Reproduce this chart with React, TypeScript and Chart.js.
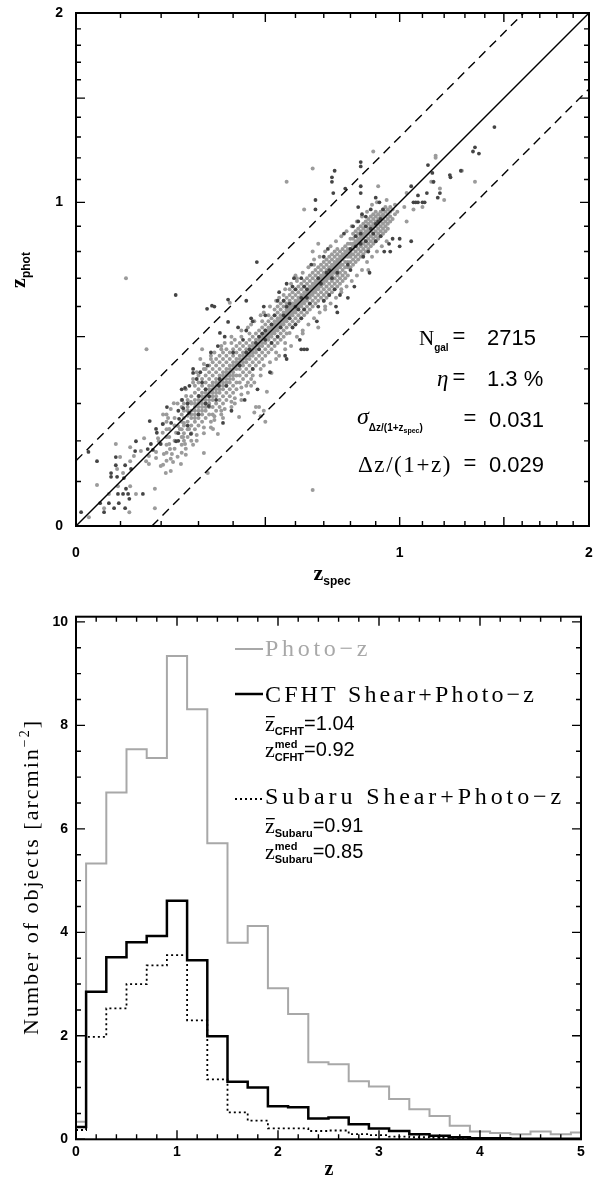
import React, { useEffect, useRef } from 'react';
import { Chart, registerables, LinearScale } from 'chart.js';

Chart.register(...registerables);

// log10(1+z) axis scale
class Log1pScale extends LinearScale {
  static id = 'log1p';
  static defaults = {};
  _u0 = 0;
  _u1 = 1;
  configure() {
    super.configure();
    this._u0 = Math.log10(1 + (this as any).min);
    this._u1 = Math.log10(1 + (this as any).max);
  }
  getPixelForValue(value: number) {
    if (value === null || value === undefined || isNaN(value)) return NaN;
    const u = Math.log10(1 + value);
    return (this as any).getPixelForDecimal((u - this._u0) / (this._u1 - this._u0));
  }
  getValueForPixel(pixel: number) {
    const d = (this as any).getDecimalForPixel(pixel);
    return Math.pow(10, this._u0 + d * (this._u1 - this._u0)) - 1;
  }
}
Chart.register(Log1pScale as any);

// ---------------- top panel data ----------------
const zAxisTicks = [0, 0.1, 0.2, 0.3, 0.4, 0.5, 0.6, 0.7, 0.8, 0.9, 1, 1.1, 1.2, 1.3, 1.4, 1.5, 1.6, 1.7, 1.8, 1.9, 2];
const zAxisLabels = [0, 1, 2];
const outlierLimit = 0.15;
const statNgal = '2715';
const statEta = '1.3 %';
const statSigma = '0.031';
const statBias = '0.029';

// [z_spec, [z_phot ...]]
const lightCols: [number, number[]][] = [
  [0.028, [0.019]], [0.046, [0.092]], [0.062, [0.039]], [0.073, [0.071]], [0.089, [0.192]],
  [0.092, [0.13]], [0.094, [0.089]], [0.099, [0.159]], [0.106, [0.12]], [0.113, [0.7]],
  [0.121, [0.03]], [0.123, [0.089, 0.149, 0.184]],
  [0.132, [0.162]], [0.137, [0.071]], [0.149, [0.174]], [0.157, [0.207]], [0.162, [0.149]],
  [0.163, [0.46]], [0.169, [0.142, 0.162]], [0.184, [0.039, 0.083]], [0.187, [0.157, 0.172]],
  [0.192, [0.207]], [0.194, [0.199]], [0.199, [0.137]], [0.204, [0.221]], [0.205, [0.14, 0.245, 0.27]],
  [0.207, [0.167]], [0.212, [0.12]], [0.214, [0.15, 0.17, 0.19, 0.21, 0.23, 0.25, 0.27]], [0.218, [0.26]],
  [0.221, [0.192, 0.21, 0.231]], [0.223, [0.179]], [0.225, [0.125, 0.155, 0.285]], [0.228, [0.167]],
  [0.231, [0.147]], [0.233, [0.301]], [0.235, [0.18, 0.2, 0.24, 0.26]], [0.239, [0.221]], [0.243, [0.16, 0.3]],
  [0.244, [0.239]], [0.249, [0.231]], [0.252, [0.142]], [0.254, [0.17, 0.19, 0.21, 0.23, 0.25, 0.27, 0.29, 0.31]],
  [0.258, [0.21]], [0.26, [0.2, 0.22, 0.24, 0.247, 0.26, 0.28, 0.3]], [0.263, [0.192]],
  [0.265, [0.165, 0.18, 0.34]], [0.266, [0.321]],
  [0.27, [0.21, 0.23, 0.25, 0.266, 0.28, 0.29, 0.31]], [0.274, [0.231]], [0.279, [0.304]],
  [0.28, [0.2, 0.22, 0.24, 0.26, 0.27, 0.28, 0.3, 0.32]], [0.285, [0.19, 0.36, 0.37]],
  [0.29, [0.23, 0.25, 0.26, 0.27, 0.28, 0.29, 0.3, 0.31, 0.33, 0.35]], [0.295, [0.2, 0.215, 0.39]],
  [0.3, [0.24, 0.26, 0.27, 0.28, 0.29, 0.3, 0.31, 0.32, 0.34, 0.36, 0.38]],
  [0.305, [0.43]], [0.31, [0.25, 0.27, 0.28, 0.29, 0.3, 0.31, 0.32, 0.33, 0.35, 0.37, 0.46]],
  [0.315, [0.169, 0.22, 0.235, 0.4, 0.415]],
  [0.32, [0.26, 0.28, 0.29, 0.3, 0.31, 0.32, 0.33, 0.34, 0.36, 0.38, 0.4]], [0.326, [0.12]],
  [0.33, [0.27, 0.29, 0.3, 0.31, 0.32, 0.33, 0.34, 0.35, 0.37, 0.39, 0.41]], [0.335, [0.235, 0.25, 0.43, 0.44]],
  [0.34, [0.27, 0.29, 0.31, 0.32, 0.33, 0.34, 0.35, 0.36, 0.38, 0.4, 0.42]], [0.341, [0.231]],
  [0.345, [0.255, 0.265, 0.45]],
  [0.35, [0.28, 0.3, 0.32, 0.33, 0.34, 0.35, 0.36, 0.37, 0.39, 0.41, 0.43]], [0.355, [0.218]],
  [0.36, [0.29, 0.31, 0.33, 0.34, 0.35, 0.36, 0.37, 0.38, 0.4, 0.42, 0.44]], [0.365, [0.27, 0.28, 0.46, 0.47]],
  [0.37, [0.26, 0.3, 0.32, 0.34, 0.35, 0.36, 0.37, 0.38, 0.39, 0.41, 0.43, 0.45]], [0.375, [0.285, 0.48]],
  [0.38, [0.31, 0.33, 0.35, 0.36, 0.37, 0.38, 0.39, 0.4, 0.42, 0.44, 0.46]],
  [0.39, [0.32, 0.34, 0.36, 0.37, 0.38, 0.39, 0.4, 0.41, 0.43, 0.45, 0.613]], [0.395, [0.29, 0.305, 0.48, 0.5]],
  [0.4, [0.33, 0.35, 0.37, 0.38, 0.39, 0.4, 0.41, 0.42, 0.44, 0.46]], [0.405, [0.3, 0.315, 0.49]],
  [0.41, [0.34, 0.36, 0.38, 0.4, 0.41, 0.42, 0.43, 0.45, 0.47]],
  [0.418, [0.263]], [0.42, [0.36, 0.38, 0.4, 0.41, 0.42, 0.43, 0.44, 0.46, 0.48]],
  [0.425, [0.31, 0.325, 0.345, 0.5, 0.52]],
  [0.43, [0.37, 0.39, 0.41, 0.42, 0.43, 0.44, 0.45, 0.47]],
  [0.44, [0.35, 0.38, 0.4, 0.42, 0.43, 0.44, 0.45, 0.46, 0.48]], [0.445, [0.33, 0.36, 0.53]],
  [0.45, [0.39, 0.41, 0.43, 0.44, 0.45, 0.46, 0.47, 0.49, 0.51]], [0.455, [0.35, 0.37, 0.54]],
  [0.46, [0.38, 0.4, 0.42, 0.44, 0.45, 0.46, 0.47, 0.48, 0.5]], [0.465, [0.275, 0.36, 0.55]],
  [0.47, [0.29, 0.41, 0.43, 0.45, 0.46, 0.47, 0.48, 0.49, 0.51]],
  [0.48, [0.29, 0.42, 0.44, 0.46, 0.47, 0.48, 0.49, 0.5, 0.52]], [0.485, [0.265, 0.38, 0.4, 0.57]],
  [0.49, [0.43, 0.45, 0.47, 0.48, 0.49, 0.5, 0.51, 0.53, 0.55]], [0.495, [0.28, 0.41, 0.58]],
  [0.5, [0.25, 0.44, 0.46, 0.48, 0.49, 0.5, 0.51, 0.52, 0.54]], [0.505, [0.333]],
  [0.51, [0.45, 0.47, 0.49, 0.5, 0.51, 0.52, 0.53, 0.55, 0.57]], [0.515, [0.42, 0.6]],
  [0.52, [0.388, 0.46, 0.48, 0.5, 0.51, 0.52, 0.53, 0.54, 0.56]],
  [0.53, [0.47, 0.49, 0.51, 0.52, 0.53, 0.54, 0.55, 0.57, 0.59]], [0.535, [0.43, 0.45, 0.62]],
  [0.54, [0.48, 0.5, 0.52, 0.53, 0.54, 0.55, 0.56, 0.58, 0.6]], [0.545, [0.44, 0.63]],
  [0.55, [0.49, 0.51, 0.53, 0.54, 0.55, 0.56, 0.57, 0.59, 0.61]],
  [0.56, [0.5, 0.52, 0.54, 0.55, 0.56, 0.57, 0.58, 0.6, 0.62, 0.64]], [0.565, [0.46, 0.48, 0.66]],
  [0.57, [0.51, 0.53, 0.55, 0.56, 0.57, 0.58, 0.59, 0.61, 0.63, 1.09]],
  [0.58, [0.512, 0.54, 0.56, 0.57, 0.58, 0.59, 0.6, 0.62, 0.64, 0.66]], [0.585, [0.47, 0.68]],
  [0.59, [0.53, 0.55, 0.57, 0.58, 0.59, 0.6, 0.61, 0.63, 0.65]],
  [0.6, [0.54, 0.56, 0.58, 0.59, 0.6, 0.61, 0.62, 0.64, 0.66, 0.71]], [0.605, [0.5, 0.69, 0.7]],
  [0.61, [0.55, 0.57, 0.59, 0.6, 0.61, 0.62, 0.63, 0.65, 0.67]],
  [0.62, [0.56, 0.58, 0.6, 0.61, 0.62, 0.63, 0.64, 0.66, 0.68]], [0.625, [0.51, 0.52, 0.72]],
  [0.63, [0.57, 0.59, 0.61, 0.62, 0.63, 0.64, 0.65, 0.67, 0.69, 0.97]],
  [0.64, [0.58, 0.6, 0.62, 0.63, 0.64, 0.65, 0.66, 0.68, 0.7]], [0.645, [0.54, 0.74]],
  [0.65, [0.59, 0.61, 0.63, 0.64, 0.65, 0.66, 0.67, 0.69, 0.71]],
  [0.66, [0.08, 0.6, 0.62, 0.64, 0.65, 0.66, 0.67, 0.68, 0.7, 0.72, 0.8, 1.15]], [0.665, [0.56, 0.75, 0.77]],
  [0.67, [0.61, 0.63, 0.65, 0.66, 0.67, 0.68, 0.69, 0.71, 0.73]],
  [0.68, [0.53, 0.62, 0.64, 0.66, 0.67, 0.68, 0.69, 0.7, 0.72, 0.74, 0.83]], [0.685, [0.58, 0.78]],
  [0.69, [0.63, 0.65, 0.67, 0.68, 0.69, 0.7, 0.71, 0.73, 0.75]],
  [0.7, [0.62, 0.64, 0.66, 0.68, 0.69, 0.7, 0.71, 0.72, 0.74, 0.76]], [0.705, [0.59, 0.6, 0.8]],
  [0.71, [0.63, 0.65, 0.67, 0.69, 0.7, 0.71, 0.72, 0.73, 0.75, 0.77]],
  [0.72, [0.64, 0.66, 0.68, 0.7, 0.71, 0.72, 0.73, 0.74, 0.76, 0.78]], [0.725, [0.61, 0.82]],
  [0.73, [0.65, 0.67, 0.69, 0.71, 0.72, 0.73, 0.74, 0.75, 0.77, 0.79]],
  [0.74, [0.66, 0.68, 0.7, 0.72, 0.73, 0.74, 0.75, 0.76, 0.78, 0.8]], [0.745, [0.63, 0.84]],
  [0.75, [0.67, 0.69, 0.71, 0.73, 0.74, 0.75, 0.76, 0.77, 0.79, 0.81]],
  [0.76, [0.68, 0.7, 0.72, 0.74, 0.75, 0.76, 0.77, 0.78, 0.8]], [0.765, [0.65, 0.66, 0.86]],
  [0.77, [0.69, 0.71, 0.73, 0.75, 0.77, 0.78, 0.79, 0.81]],
  [0.78, [0.7, 0.72, 0.74, 0.76, 0.78, 0.79, 0.8, 0.82]], [0.785, [0.67, 0.88]],
  [0.79, [0.71, 0.74, 0.76, 0.78, 0.8, 0.81, 0.83]],
  [0.8, [0.74, 0.76, 0.78, 0.79, 0.8, 0.81, 0.83, 0.85]], [0.805, [0.69, 0.9]],
  [0.81, [0.75, 0.77, 0.79, 0.81, 0.82, 0.83, 0.85, 0.87]],
  [0.82, [0.76, 0.78, 0.8, 0.82, 0.83, 0.84, 0.86, 0.88]], [0.825, [0.71, 0.92]],
  [0.83, [0.77, 0.79, 0.81, 0.83, 0.84, 0.85, 0.87, 0.89]],
  [0.84, [0.78, 0.8, 0.82, 0.84, 0.85, 0.86, 0.88, 0.9]], [0.845, [0.73, 0.94]],
  [0.85, [0.79, 0.81, 0.83, 0.85, 0.86, 0.87, 0.89, 0.91]],
  [0.86, [0.8, 0.82, 0.84, 0.86, 0.87, 0.88, 0.9, 0.92]], [0.865, [0.76, 0.96]],
  [0.87, [0.73, 0.81, 0.83, 0.85, 0.87, 0.88, 0.89, 0.91, 0.93]],
  [0.88, [0.82, 0.84, 0.86, 0.88, 0.89, 0.9, 0.92, 0.94]], [0.885, [0.78, 0.99]],
  [0.89, [0.83, 0.85, 0.87, 0.89, 0.9, 0.91, 0.93, 0.95, 1.23]],
  [0.9, [0.84, 0.86, 0.88, 0.9, 0.91, 0.92, 0.94, 0.96]], [0.905, [0.8, 1.0]],
  [0.91, [0.85, 0.87, 0.89, 0.91, 0.92, 0.93, 0.95, 1.07]],
  [0.92, [0.86, 0.88, 0.9, 0.92, 0.93, 0.94, 0.96]], [0.925, [0.82]],
  [0.93, [0.87, 0.89, 0.91, 0.93, 0.94, 0.95, 0.97]],
  [0.94, [0.88, 0.9, 0.92, 0.94, 0.96, 0.98]], [0.945, [0.84, 1.01]],
  [0.95, [0.89, 0.91, 0.93, 0.95, 0.97]], [0.96, [0.92, 0.94, 0.96, 0.98]],
  [0.97, [0.93, 0.97]], [0.98, [0.95, 0.99]], [0.99, [0.96]],
  [1.02, [0.98]], [1.03, [0.92, 1.04]], [1.06, [0.97]], [1.1, [0.98]], [1.14, [1.09]],
  [1.15, [1.09]], [1.16, [1.2, 1.21]], [1.18, [1.06]], [1.2, [1.01]], [1.285, [1.14]], [1.35, [1.09]],
];

const darkCols: [number, number[]][] = [
  [0.011, [0.03]], [0.027, [0.172]], [0.046, [0.149]], [0.053, [0.05]], [0.062, [0.03]],
  [0.073, [0.05]], [0.078, [0.111, 0.12]], [0.085, [0.039]], [0.089, [0.139, 0.159]],
  [0.092, [0.111]], [0.094, [0.071]], [0.096, [0.05]], [0.106, [0.071]], [0.108, [0.108]],
  [0.111, [0.039, 0.139]], [0.113, [0.083]], [0.118, [0.071]], [0.121, [0.06]], [0.125, [0.13]],
  [0.135, [0.174]], [0.137, [0.199]], [0.154, [0.071]], [0.166, [0.179]], [0.171, [0.252]],
  [0.174, [0.192]], [0.179, [0.177]], [0.187, [0.231]], [0.189, [0.221]], [0.199, [0.192]],
  [0.204, [0.244]], [0.215, [0.29]], [0.226, [0.247]], [0.238, [0.64]], [0.239, [0.199]],
  [0.245, [0.2, 0.22, 0.28]], [0.247, [0.258]], [0.254, [0.34]], [0.255, [0.31]], [0.258, [0.287]],
  [0.263, [0.344]], [0.27, [0.24, 0.3]], [0.274, [0.274]], [0.275, [0.35]], [0.279, [0.218]],
  [0.285, [0.388, 0.4]], [0.295, [0.37]], [0.3, [0.27]], [0.301, [0.321]], [0.305, [0.39]],
  [0.31, [0.36]], [0.32, [0.3, 0.34]], [0.324, [0.592]], [0.325, [0.41]], [0.329, [0.293]], [0.33, [0.32]],
  [0.335, [0.45]], [0.338, [0.603]], [0.345, [0.6]], [0.35, [0.31]], [0.355, [0.47]], [0.358, [0.35]],
  [0.36, [0.37]], [0.361, [0.512]], [0.37, [0.247]], [0.375, [0.5]], [0.38, [0.35]],
  [0.385, [0.548, 0.624]], [0.395, [0.28]], [0.4, [0.45]], [0.415, [0.53]],
  [0.42, [0.41]], [0.43, [0.49]], [0.435, [0.31]], [0.44, [0.45, 0.52, 0.62]], [0.45, [0.46]],
  [0.455, [0.56]], [0.46, [0.4, 0.55]], [0.47, [0.48]], [0.473, [0.76]], [0.475, [0.34]],
  [0.48, [0.46, 0.5]], [0.49, [0.51]], [0.495, [0.6]], [0.5, [0.49, 0.52, 0.57]], [0.515, [0.39]],
  [0.52, [0.48, 0.54]], [0.53, [0.57]], [0.54, [0.5, 0.62]], [0.545, [0.65]], [0.55, [0.53]],
  [0.56, [0.57, 0.62]], [0.565, [0.44]], [0.57, [0.43, 0.6, 0.68]], [0.58, [0.56, 0.61]],
  [0.59, [0.53, 0.67]], [0.595, [0.7]], [0.6, [0.54, 0.6, 0.66]], [0.61, [0.59]], [0.615, [0.49]],
  [0.62, [0.46, 0.56, 0.63, 0.7]], [0.63, [0.46, 0.59, 0.67]], [0.64, [0.46, 0.63, 0.66]],
  [0.65, [0.61]], [0.655, [0.75]], [0.67, [0.97, 1.01]], [0.675, [0.55]], [0.68, [0.6, 0.7]],
  [0.69, [0.68]], [0.7, [0.62, 0.78]], [0.71, [0.72]], [0.715, [0.81]], [0.72, [0.64, 0.73]],
  [0.73, [0.7, 1.09, 1.11]], [0.735, [1.04]], [0.74, [0.66, 1.14]], [0.745, [0.6]],
  [0.75, [0.58, 0.72]], [0.76, [0.64]], [0.775, [0.87]], [0.78, [1.06]], [0.79, [0.63, 0.75]],
  [0.8, [0.73, 0.81]], [0.81, [0.9]], [0.815, [0.67]], [0.82, [0.82, 0.86]], [0.83, [0.92, 0.98]],
  [0.84, [0.83, 0.87, 1.04, 1.07, 1.16, 1.18]], [0.845, [0.95]], [0.85, [0.78]],
  [0.86, [0.84, 0.9, 0.94]], [0.87, [0.8]], [0.875, [0.72]], [0.88, [0.89, 0.97]], [0.89, [0.87]],
  [0.9, [0.84, 0.91, 1.02]], [0.91, [0.92]], [0.915, [1.0]], [0.92, [0.86, 0.93]], [0.93, [0.97]],
  [0.935, [0.8]], [0.955, [0.83]], [0.96, [0.8]], [0.97, [0.85]], [1.0, [0.82, 0.85]],
  [1.05, [0.84, 1.07]], [1.06, [1.0]], [1.07, [1.0]], [1.08, [1.0, 1.03]], [1.1, [1.0]],
  [1.11, [1.0]], [1.12, [1.04]], [1.125, [1.166]], [1.145, [1.13]], [1.15, [1.09]], [1.17, [1.02]],
  [1.18, [1.04]], [1.227, [1.12]], [1.23, [1.11]], [1.28, [1.14]], [1.34, [1.23]], [1.35, [1.25]],
  [1.37, [1.22]], [1.45, [1.35]],
];

// ---------------- bottom panel data ----------------
const binEdges = [0, 0.1, 0.3, 0.5, 0.7, 0.9, 1.1, 1.3, 1.5, 1.7, 1.9, 2.1, 2.3, 2.5, 2.7, 2.9, 3.1, 3.3, 3.5, 3.7, 3.9, 4.1, 4.3, 4.5, 4.7, 4.9, 5.0];
const photoZCounts = [0.34, 5.33, 6.7, 7.54, 7.37, 9.34, 8.31, 5.72, 3.8, 4.12, 2.92, 2.42, 1.49, 1.45, 1.12, 1.02, 0.78, 0.58, 0.45, 0.26, 0.15, 0.12, 0.1, 0.15, 0.1, 0.13];
const cfhtCounts = [0.24, 2.85, 3.52, 3.81, 3.93, 4.61, 3.46, 1.99, 1.11, 1.0, 0.64, 0.62, 0.4, 0.42, 0.29, 0.21, 0.16, 0.1, 0.07, 0.04, 0.02, 0.02, 0.01, 0.01, 0.01, 0.01];
const subaruCounts = [0.18, 1.98, 2.53, 3.0, 3.36, 3.56, 2.3, 1.16, 0.52, 0.36, 0.21, 0.21, 0.16, 0.17, 0.1, 0.08, 0.05, 0.04, 0.03, 0.02, 0.01, 0.01, 0.01, 0, 0, 0];
const histXTicks = [0, 0.2, 0.4, 0.6, 0.8, 1, 1.2, 1.4, 1.6, 1.8, 2, 2.2, 2.4, 2.6, 2.8, 3, 3.2, 3.4, 3.6, 3.8, 4, 4.2, 4.4, 4.6, 4.8, 5];
const histXLabels = [0, 1, 2, 3, 4, 5];
const histYTicks = [0, 0.5, 1, 1.5, 2, 2.5, 3, 3.5, 4, 4.5, 5, 5.5, 6, 6.5, 7, 7.5, 8, 8.5, 9, 9.5, 10];
const histYLabels = [0, 2, 4, 6, 8, 10];
const cfhtMean = '1.04';
const cfhtMedian = '0.92';
const subaruMean = '0.91';
const subaruMedian = '0.85';

// ---------------- helpers ----------------
const SERIF = '"Liberation Serif", "DejaVu Serif", serif';
const SANS = '"Liberation Sans", Arial, sans-serif';

type Seg = { t?: string; f?: string; dy?: number; c?: string; ls?: number; bar?: boolean; sup?: Seg; sub?: Seg };

function segWidth(ctx: CanvasRenderingContext2D, s: Seg): number {
  if (s.sup || s.sub) {
    return Math.max(s.sup ? segWidth(ctx, s.sup) : 0, s.sub ? segWidth(ctx, s.sub) : 0);
  }
  ctx.font = s.f as string;
  const t = s.t as string;
  if (!s.ls) return ctx.measureText(t).width;
  let w = 0;
  for (const ch of Array.from(t)) w += ctx.measureText(ch).width + s.ls;
  return w;
}

function drawSeg(ctx: CanvasRenderingContext2D, s: Seg, x: number, y: number, color: string) {
  ctx.font = s.f as string;
  ctx.fillStyle = s.c || color;
  const t = s.t as string;
  const yy = y + (s.dy || 0);
  if (!s.ls) {
    ctx.fillText(t, x, yy);
  } else {
    let cx = x;
    for (const ch of Array.from(t)) {
      ctx.fillText(ch, cx, yy);
      cx += ctx.measureText(ch).width + s.ls;
    }
  }
  if (s.bar) {
    const w = ctx.measureText(t).width;
    ctx.fillRect(x + 1, yy - 15, w - 1, 1.3);
  }
}

// spread letters so that the whole run spans `target` pixels
function fitSegs(ctx: CanvasRenderingContext2D, segs: Seg[], target: number): Seg[] {
  const base = segs.map((s) => ({ ...s, ls: 0 }));
  const w0 = base.reduce((a, s) => a + segWidth(ctx, s), 0);
  const n = base.reduce((a, s) => a + Array.from(s.t || '').length, 0);
  const ls = (target - w0) / n;
  return base.map((s) => ({ ...s, ls }));
}

function drawRich(ctx: CanvasRenderingContext2D, x: number, y: number, segsIn: Seg[], align = 'left', color = '#000', target = 0) {
  ctx.save();
  ctx.textBaseline = 'alphabetic';
  ctx.textAlign = 'left';
  const segs = target > 0 ? fitSegs(ctx, segsIn, target) : segsIn;
  const total = segs.reduce((a, s) => a + segWidth(ctx, s), 0);
  let cx = align === 'center' ? x - total / 2 : align === 'right' ? x - total : x;
  for (const s of segs) {
    const w = segWidth(ctx, s);
    if (s.sup || s.sub) {
      if (s.sup) drawSeg(ctx, s.sup, cx, y, color);
      if (s.sub) drawSeg(ctx, s.sub, cx, y, color);
    } else {
      drawSeg(ctx, s, cx, y, color);
    }
    cx += w;
  }
  ctx.restore();
}

function drawFrameTicks(chart: any, majorX: number, majorY: number, majorLen: number, minorLen: number) {
  const { ctx, chartArea: a } = chart;
  const xs = chart.scales.x;
  const ys = chart.scales.y;
  const isMajor = (v: number, step: number) => Math.abs(v / step - Math.round(v / step)) < 1e-6;
  ctx.save();
  ctx.strokeStyle = '#000';
  ctx.lineWidth = 1.4;
  ctx.beginPath();
  for (const t of xs.ticks) {
    const p = xs.getPixelForValue(t.value);
    const len = isMajor(t.value, majorX) ? majorLen : minorLen;
    ctx.moveTo(p, a.bottom);
    ctx.lineTo(p, a.bottom - len);
    ctx.moveTo(p, a.top);
    ctx.lineTo(p, a.top + len);
  }
  for (const t of ys.ticks) {
    const p = ys.getPixelForValue(t.value);
    const len = isMajor(t.value, majorY) ? majorLen : minorLen;
    ctx.moveTo(a.left, p);
    ctx.lineTo(a.left + len, p);
    ctx.moveTo(a.right, p);
    ctx.lineTo(a.right - len, p);
  }
  ctx.stroke();
  ctx.lineWidth = 2;
  ctx.strokeRect(a.left, a.top, a.right - a.left, a.bottom - a.top);
  ctx.restore();
}

const colsToPoints = (cols: [number, number[]][]) =>
  cols.flatMap(([zs, zps]) => zps.map((zp) => ({ x: zs, y: zp })));

const histPoints = (counts: number[]) => {
  const pts = counts.map((v, i) => ({ x: binEdges[i], y: v }));
  pts.push({ x: binEdges[binEdges.length - 1], y: counts[counts.length - 1] });
  return pts;
};

const tickFont = { family: SANS, size: 14, weight: 'bold' as const };

const fitX = (h: number) => (s: any) => {
  s.height = h;
  s.paddingLeft = 0; s.paddingRight = 0; s.paddingTop = 0; s.paddingBottom = 0;
};
const fitY = (w: number) => (s: any) => {
  s.width = w;
  s.paddingLeft = 0; s.paddingRight = 0; s.paddingTop = 0; s.paddingBottom = 0;
};
const labelCb = (labels: number[]) => (v: number) => (labels.includes(v) ? String(v) : '');

// ---------------- top chart ----------------
function makeTopChart(canvas: HTMLCanvasElement) {
  const lim = outlierLimit;
  const annot = {
    id: 'topAnnot',
    afterDraw(chart: any) {
      const ctx = chart.ctx as CanvasRenderingContext2D;
      drawFrameTicks(chart, 0.5, 0.5, 9, 5);
      const num = `22px ${SANS}`;
      drawRich(ctx, 419, 345, [{ t: 'N', f: `21px ${SERIF}` }, { t: 'gal', f: `bold 10px ${SANS}`, dy: 6 }]);
      drawRich(ctx, 459, 343, [{ t: '=', f: num }], 'center');
      drawRich(ctx, 487, 345, [{ t: statNgal, f: num }]);
      drawRich(ctx, 437, 386, [{ t: 'η', f: `italic 23px ${SERIF}` }]);
      drawRich(ctx, 459, 384, [{ t: '=', f: num }], 'center');
      drawRich(ctx, 487, 386, [{ t: statEta, f: num }]);
      drawRich(ctx, 357, 424, [
        { t: 'σ', f: `italic 24px ${SERIF}` },
        { t: 'Δz/(1+z', f: `bold 10px ${SANS}`, dy: 7 },
        { t: 'spec', f: `bold 7px ${SANS}`, dy: 9 },
        { t: ')', f: `bold 10px ${SANS}`, dy: 7 },
      ]);
      drawRich(ctx, 470, 425, [{ t: '=', f: num }], 'center');
      drawRich(ctx, 489, 427, [{ t: statSigma, f: num }]);
      drawRich(ctx, 358, 472, [{ t: 'Δz/(1+z)', f: `23px ${SERIF}` }], 'left', '#000', 94);
      drawRich(ctx, 470, 470, [{ t: '=', f: num }], 'center');
      drawRich(ctx, 489, 472, [{ t: statBias, f: num }]);
      drawRich(ctx, 332, 580, [{ t: 'z', f: `bold 22px ${SERIF}` }, { t: 'spec', f: `bold 12px ${SANS}`, dy: 5 }], 'center');
      ctx.save();
      ctx.translate(25, 270);
      ctx.rotate(-Math.PI / 2);
      drawRich(ctx, 0, 0, [{ t: 'z', f: `bold 22px ${SERIF}` }, { t: 'phot', f: `bold 12px ${SANS}`, dy: 5 }], 'center');
      ctx.restore();
    },
  };
  return new Chart(canvas, {
    type: 'scatter',
    data: {
      datasets: [
        { type: 'line', data: [{ x: 0, y: 0 }, { x: 2, y: 2 }], borderColor: '#000', borderWidth: 1.4, pointRadius: 0, showLine: true } as any,
        { type: 'line', data: [{ x: 0, y: lim }, { x: 3 / (1 + lim) - 1, y: 2 }], borderColor: '#000', borderWidth: 1.4, borderDash: [9, 6], pointRadius: 0, showLine: true } as any,
        { type: 'line', data: [{ x: 1 / (1 - lim) - 1, y: 0 }, { x: 2, y: 3 * (1 - lim) - 1 }], borderColor: '#000', borderWidth: 1.4, borderDash: [9, 6], pointRadius: 0, showLine: true } as any,
        { data: colsToPoints(darkCols), pointRadius: 1.9, pointBorderWidth: 0, pointBackgroundColor: '#444444', backgroundColor: '#444444', showLine: false },
        { data: colsToPoints(lightCols), pointRadius: 2, pointBorderWidth: 0, pointBackgroundColor: '#9b9b9b', backgroundColor: '#9b9b9b', showLine: false },
      ],
    },
    options: {
      animation: false,
      responsive: false,
      devicePixelRatio: 1,
      events: [],
      layout: { padding: { top: 13, right: 7, left: 0, bottom: 0 } },
      plugins: { legend: { display: false }, tooltip: { enabled: false } },
      scales: {
        x: {
          type: 'log1p' as any,
          min: 0,
          max: 2,
          grid: { display: false, drawTicks: false },
          border: { display: false },
          afterBuildTicks: (s: any) => { s.ticks = zAxisTicks.map((v) => ({ value: v })); },
          afterFit: fitX(64),
          ticks: { autoSkip: false, maxRotation: 0, padding: 19, color: '#000', font: tickFont, callback: labelCb(zAxisLabels) as any },
        },
        y: {
          type: 'log1p' as any,
          min: 0,
          max: 2,
          grid: { display: false, drawTicks: false },
          border: { display: false },
          afterBuildTicks: (s: any) => { s.ticks = zAxisTicks.map((v) => ({ value: v })); },
          afterFit: fitY(76),
          ticks: { autoSkip: false, padding: 13, color: '#000', font: tickFont, callback: labelCb(zAxisLabels) as any },
        },
      } as any,
    },
    plugins: [annot],
  } as any);
}

// ---------------- bottom chart ----------------
function makeBottomChart(canvas: HTMLCanvasElement) {
  const annot = {
    id: 'bottomAnnot',
    afterDraw(chart: any) {
      const ctx = chart.ctx as CanvasRenderingContext2D;
      drawFrameTicks(chart, 1, 2, 9, 5);
      const big = `24px ${SERIF}`;
      const zf = `22px ${SERIF}`;
      const sub = `bold 11px ${SANS}`;
      const num = `20px ${SANS}`;
      ctx.save();
      ctx.lineWidth = 2;
      ctx.strokeStyle = '#a8a8a8';
      ctx.beginPath(); ctx.moveTo(235, 59); ctx.lineTo(263, 59); ctx.stroke();
      ctx.lineWidth = 2.5;
      ctx.strokeStyle = '#000';
      ctx.beginPath(); ctx.moveTo(235, 104); ctx.lineTo(263, 104); ctx.stroke();
      ctx.lineWidth = 1.8;
      ctx.setLineDash([2, 3]);
      ctx.beginPath(); ctx.moveTo(235, 209); ctx.lineTo(263, 209); ctx.stroke();
      ctx.restore();
      drawRich(ctx, 265, 66, [{ t: 'Photo−z', f: big }], 'left', '#a8a8a8', 106);
      drawRich(ctx, 265, 112, [{ t: 'CFHT Shear+Photo−z', f: big }], 'left', '#000', 272);
      drawRich(ctx, 265, 141, [{ t: 'z', f: zf, bar: true }, { t: 'CFHT', f: sub, dy: 4 }, { t: '=' + cfhtMean, f: num, dy: -1 }]);
      drawRich(ctx, 265, 167, [{ t: 'z', f: zf }, { sup: { t: 'med', f: sub, dy: -9 }, sub: { t: 'CFHT', f: sub, dy: 4 } }, { t: '=' + cfhtMedian, f: num, dy: -1 }]);
      drawRich(ctx, 265, 214, [{ t: 'Subaru Shear+Photo−z', f: big }], 'left', '#000', 300);
      drawRich(ctx, 265, 243, [{ t: 'z', f: zf, bar: true }, { t: 'Subaru', f: sub, dy: 4 }, { t: '=' + subaruMean, f: num, dy: -1 }]);
      drawRich(ctx, 265, 269, [{ t: 'z', f: zf }, { sup: { t: 'med', f: sub, dy: -9 }, sub: { t: 'Subaru', f: sub, dy: 4 } }, { t: '=' + subaruMedian, f: num, dy: -1 }]);
      drawRich(ctx, 329, 585, [{ t: 'z', f: `bold 20px ${SERIF}` }], 'center');
      ctx.save();
      ctx.translate(38, 287);
      ctx.rotate(-Math.PI / 2);
      drawRich(ctx, 0, 0, [
        { t: 'Number of objects [arcmin', f: `22px ${SERIF}` },
        { t: '−2', f: `14px ${SERIF}`, dy: -9 },
        { t: ']', f: `22px ${SERIF}` },
      ], 'center', '#000', 316);
      ctx.restore();
    },
  };
  const common = { pointRadius: 0, fill: false, stepped: 'before', borderCapStyle: 'butt', borderJoinStyle: 'miter' };
  return new Chart(canvas, {
    type: 'line',
    data: {
      datasets: [
        { ...common, data: histPoints(subaruCounts), borderColor: '#000', borderWidth: 1.8, borderDash: [2, 3] },
        { ...common, data: histPoints(cfhtCounts), borderColor: '#000', borderWidth: 2.5 },
        { ...common, data: histPoints(photoZCounts), borderColor: '#a8a8a8', borderWidth: 2 },
      ] as any,
    },
    options: {
      animation: false,
      responsive: false,
      devicePixelRatio: 1,
      events: [],
      layout: { padding: { top: 26.7, right: 15, left: 0, bottom: 0 } },
      plugins: { legend: { display: false }, tooltip: { enabled: false } },
      scales: {
        x: {
          type: 'linear',
          min: 0,
          max: 5,
          grid: { display: false, drawTicks: false },
          border: { display: false },
          afterBuildTicks: (s: any) => { s.ticks = histXTicks.map((v) => ({ value: v })); },
          afterFit: fitX(38.7),
          ticks: { autoSkip: false, maxRotation: 0, padding: 4, color: '#000', font: tickFont, callback: labelCb(histXLabels) as any },
        },
        y: {
          type: 'linear',
          min: 0,
          max: 10.1,
          grid: { display: false, drawTicks: false },
          border: { display: false },
          afterBuildTicks: (s: any) => { s.ticks = histYTicks.map((v) => ({ value: v })); },
          afterFit: fitY(76),
          ticks: { autoSkip: false, padding: 8, color: '#000', font: tickFont, callback: labelCb(histYLabels) as any },
        },
      } as any,
    },
    plugins: [annot],
  } as any);
}

export default function App() {
  const topRef = useRef<HTMLCanvasElement>(null);
  const botRef = useRef<HTMLCanvasElement>(null);
  useEffect(() => {
    const c1 = makeTopChart(topRef.current as HTMLCanvasElement);
    const c2 = makeBottomChart(botRef.current as HTMLCanvasElement);
    return () => {
      c1.destroy();
      c2.destroy();
    };
  }, []);
  return (
    <div style={{ position: 'absolute', left: 0, top: 0, width: 596, height: 1178, background: '#fff' }}>
      <canvas ref={topRef} width={596} height={590} style={{ position: 'absolute', left: 0, top: 0 }} />
      <canvas ref={botRef} width={596} height={588} style={{ position: 'absolute', left: 0, top: 590 }} />
    </div>
  );
}
